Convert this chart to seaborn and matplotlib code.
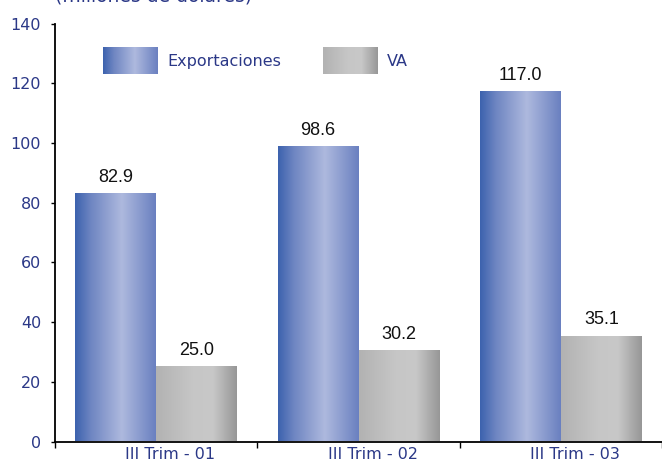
import numpy as np
import pandas as pd
import matplotlib
matplotlib.use("Agg")
import matplotlib.pyplot as plt
import seaborn as sns
from matplotlib.colors import LinearSegmentedColormap
from matplotlib.patches import Patch
from matplotlib.legend_handler import HandlerBase
from matplotlib.image import BboxImage
from matplotlib.transforms import Bbox, TransformedBbox

# Data
trimestres = ["III Trim - 01", "III Trim - 02", "III Trim - 03"]
exportaciones = [82.9, 98.6, 117.0]
va = [25.0, 30.2, 35.1]
series = ["Exportaciones", "VA"]
y_ticks = [0, 20, 40, 60, 80, 100, 120, 140]

df = pd.DataFrame({
    "trim": trimestres * 2,
    "valor": exportaciones + va,
    "serie": [series[0]] * 3 + [series[1]] * 3,
})

sns.set_theme(style="white")
plt.rcParams["font.family"] = ["DejaVu Sans"]

label_blue = "#2B3887"
fs = 11.5

cmap_exp = LinearSegmentedColormap.from_list(
    "exp", [(0.0, "#3C62AE"), (0.2, "#6F86C2"), (0.58, "#AEB9DE"), (1.0, "#6A80C0")])
cmap_va = LinearSegmentedColormap.from_list(
    "va", [(0.0, "#B2B2B2"), (0.45, "#C6C6C6"), (0.7, "#C8C8C8"), (1.0, "#979797")])
cmaps = {series[0]: cmap_exp, series[1]: cmap_va}
grad = np.linspace(0, 1, 256).reshape(1, -1)

fig = plt.figure(figsize=(6.62, 4.62), dpi=100)
ax = fig.add_axes([55 / 662, 20.5 / 462, 1 - 55 / 662, 418 / 462])

sns.barplot(data=df, x="trim", y="valor", hue="serie", hue_order=series,
            palette=["#6A80C0", "#B8B8B8"], width=0.8, ax=ax, legend=False,
            saturation=1)

# Gradient fill for every bar
for cont, name in zip(ax.containers, series):
    for bar in cont:
        x, y = bar.get_x(), bar.get_y()
        w, h = bar.get_width(), bar.get_height()
        ax.imshow(grad, extent=[x, x + w, y, y + h], aspect="auto",
                  cmap=cmaps[name], interpolation="bicubic", zorder=2)
        bar.set_facecolor("none")
        bar.set_edgecolor("none")
    ax.bar_label(cont, fmt="%.1f", padding=6, fontsize=13, color="#111111",
                 family="Liberation Sans")

ax.set_xlim(-0.5, 2.5)
ax.set_ylim(0, 140)
ax.set_yticks(y_ticks)
ax.set_yticklabels([str(t) for t in y_ticks], color=label_blue, fontsize=fs)
ax.tick_params(axis="y", direction="out", length=3, width=1, color="black", pad=7, left=True)

ax.set_xticks([i + 0.07 for i in range(len(trimestres))])
ax.set_xticklabels(trimestres, color=label_blue, fontsize=fs)
ax.tick_params(axis="x", which="major", length=0, pad=4)
ax.set_xticks([-0.5, 0.5, 1.5, 2.5], minor=True)
ax.tick_params(axis="x", which="minor", direction="out", length=4, width=1,
               color="black", bottom=True)

ax.set_xlabel("")
ax.set_ylabel("")
for side in ["top", "right"]:
    ax.spines[side].set_visible(False)
for side in ["left", "bottom"]:
    ax.spines[side].set_color("black")
    ax.spines[side].set_linewidth(1.3)


class GradientHandler(HandlerBase):
    def __init__(self, cmap):
        super().__init__()
        self.cmap = cmap

    def create_artists(self, legend, orig_handle, xdescent, ydescent,
                       width, height, fontsize, trans):
        bb = Bbox.from_bounds(-xdescent, -ydescent - 5.5, width, height + 11)
        img = BboxImage(TransformedBbox(bb, trans), cmap=self.cmap,
                        interpolation="bicubic")
        img.set_data(grad)
        return [img]


handles = [Patch(label=s) for s in series]
leg = ax.legend(handles=handles, labels=series, ncol=2, frameon=False,
                loc="center left", bbox_to_anchor=(0.079, 0.908),
                borderpad=0, borderaxespad=0,
                handlelength=3.4, handletextpad=0.62, columnspacing=2.6,
                fontsize=fs,
                handler_map={h: GradientHandler(cmaps[s]) for h, s in zip(handles, series)})
for t in leg.get_texts():
    t.set_color(label_blue)

fig.text(55 / 662, 1 - 1.5 / 462, "(millones de dólares)", color=label_blue,
         fontsize=13.5, va="baseline", ha="left")

fig.savefig("out.png", dpi=100)
